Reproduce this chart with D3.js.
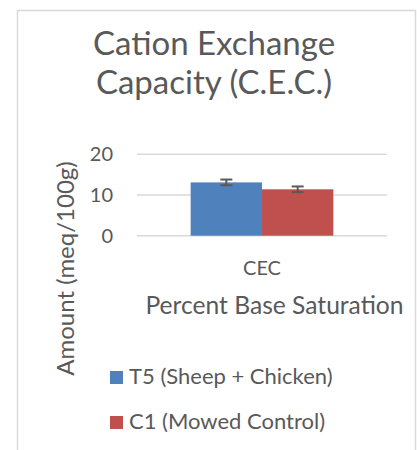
<!DOCTYPE html>
<html>
<head>
<meta charset="utf-8">
<script src="https://cdn.jsdelivr.net/npm/d3@7"></script>
<style>
  body { margin: 0; background: #fff; }
  text { font-family: Lato, "Open Sans", sans-serif; fill: #595959; }
</style>
</head>
<body>
<svg id="chart" width="417" height="450"></svg>
<script>
// Chart data
const categories = ["CEC"];
const seriesNames = ["T5 (Sheep + Chicken)", "C1 (Mowed Control)"];
const seriesColors = ["#4F81BD", "#C0504D"];
const values = [13.1, 11.4];
const errors = [0.7, 0.7];
const yTicks = [0, 10, 20];
const titleLines = ["Cation Exchange", "Capacity (C.E.C.)"];

const svg = d3.select("#chart");

// chart border (bottom runs off the picture)
svg.append("rect")
    .attr("x", 17.5).attr("y", 10.5)
    .attr("width", 398).attr("height", 470)
    .attr("fill", "#fff")
    .attr("stroke", "#D9D9D9")
    .attr("stroke-width", 1.5);

// title
svg.append("g").selectAll("text")
    .data(titleLines)
    .join("text")
    .attr("x", 214)
    .attr("y", (d, i) => 55 + i * 39)
    .attr("text-anchor", "middle")
    .attr("font-size", 33)
    .text(d => d);

const plot = { left: 137, right: 387, top: 154.3, bottom: 235.7 };

const y = d3.scaleLinear().domain([0, 20]).range([plot.bottom, plot.top]);
const x = d3.scaleBand().domain(categories).range([plot.left, plot.right]).paddingInner(0).paddingOuter(0.376);
const xs = d3.scaleBand().domain(seriesNames).range([0, x.bandwidth()]);

// gridlines
svg.append("g").selectAll("line")
    .data(yTicks)
    .join("line")
    .attr("x1", plot.left).attr("x2", plot.right)
    .attr("y1", d => y(d)).attr("y2", d => y(d))
    .attr("stroke", "#D9D9D9")
    .attr("stroke-width", 1.5);

// y tick labels
const yAxis = svg.append("g")
    .attr("transform", `translate(118,0)`)
    .call(d3.axisLeft(y).tickValues(yTicks).tickSize(0).tickPadding(5));
yAxis.select(".domain").remove();
yAxis.selectAll("text")
    .attr("font-size", 20)
    .attr("font-family", null)
    .attr("fill", "#595959");

// bars
const bars = svg.append("g");
categories.forEach(cat => {
    const g = bars.append("g").attr("transform", `translate(${x(cat)},0)`);
    g.selectAll("rect")
        .data(seriesNames)
        .join("rect")
        .attr("x", d => xs(d))
        .attr("width", xs.bandwidth())
        .attr("y", (d, i) => y(values[i]))
        .attr("height", (d, i) => y(0) - y(values[i]))
        .attr("fill", (d, i) => seriesColors[i]);

    // error bars
    const eb = g.selectAll("g.err")
        .data(seriesNames)
        .join("g")
        .attr("class", "err")
        .attr("transform", d => `translate(${xs(d) + xs.bandwidth() / 2},0)`);
    eb.append("line")
        .attr("y1", (d, i) => y(values[i] - errors[i]))
        .attr("y2", (d, i) => y(values[i] + errors[i]))
        .attr("stroke", "#595959").attr("stroke-width", 2);
    [-1, 1].forEach(s => {
        eb.append("line")
            .attr("x1", -6).attr("x2", 6)
            .attr("y1", (d, i) => y(values[i] + s * errors[i]))
            .attr("y2", (d, i) => y(values[i] + s * errors[i]))
            .attr("stroke", "#595959").attr("stroke-width", 2);
    });
});

// category label
svg.append("g").selectAll("text")
    .data(categories)
    .join("text")
    .attr("x", d => x(d) + x.bandwidth() / 2)
    .attr("y", 275)
    .attr("text-anchor", "middle")
    .attr("font-size", 20)
    .text(d => d);

// x axis title
svg.append("text")
    .attr("x", 274.5).attr("y", 314)
    .attr("text-anchor", "middle")
    .attr("font-size", 24.6)
    .text("Percent Base Saturation");

// y axis title
svg.append("text")
    .attr("transform", "translate(74,268.5) rotate(-90)")
    .attr("text-anchor", "middle")
    .attr("font-size", 24)
    .text("Amount (meq/100g)");

// legend
const legend = svg.append("g").selectAll("g")
    .data(seriesNames)
    .join("g")
    .attr("transform", (d, i) => `translate(110,${371 + i * 45})`);
legend.append("rect")
    .attr("width", 13).attr("height", 13)
    .attr("fill", (d, i) => seriesColors[i]);
legend.append("text")
    .attr("x", 19).attr("y", 13)
    .attr("font-size", 22)
    .text(d => d);
</script>
</body>
</html>
